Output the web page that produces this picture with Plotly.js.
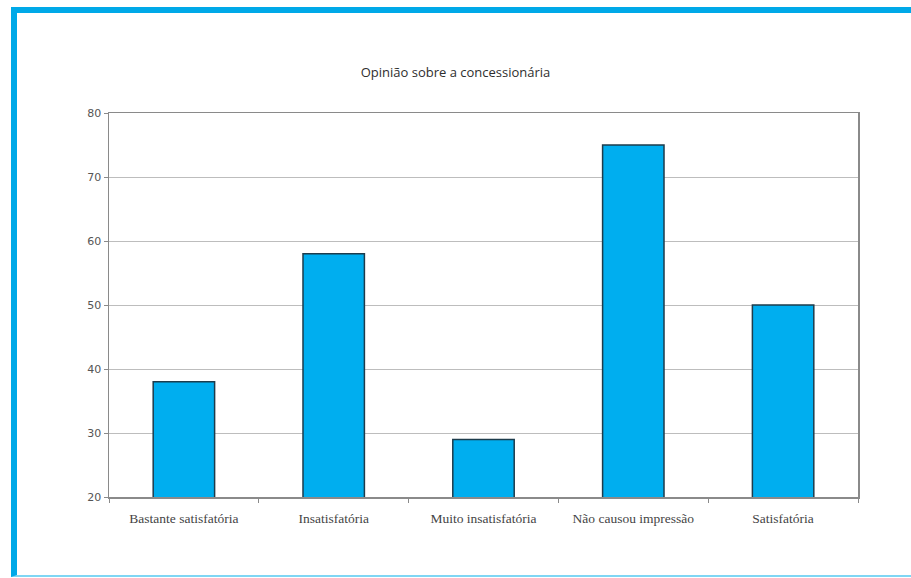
<!DOCTYPE html>
<html>
<head>
<meta charset="utf-8">
<script src="https://cdn.plot.ly/plotly-3.0.1.min.js"></script>
<style>
  html, body { margin: 0; padding: 0; background: #ffffff; }
  #wrap { position: relative; width: 911px; height: 578px; overflow: hidden; }
  #frame {
    position: absolute; left: 11px; top: 7px; width: 940px; height: 562px;
    border-left: 6px solid #00a9e8; border-top: 6px solid #00a9e8;
    border-bottom: 2px solid #7fd6f4; box-sizing: content-box;
  }
  #chart { position: absolute; left: 0; top: 0; width: 911px; height: 578px; }
</style>
</head>
<body>
<div id="wrap">
  <div id="frame"></div>
  <div id="chart"></div>
</div>
<script>
// Opinion survey about the car dealership
const categories = [
  "Bastante satisfatória",
  "Insatisfatória",
  "Muito insatisfatória",
  "Não causou impressão",
  "Satisfatória"
];
const counts = [38, 58, 29, 75, 50];
const yTicks = [20, 30, 40, 50, 60, 70, 80];

const trace = {
  type: "bar",
  x: categories,
  y: counts,
  marker: {
    color: "#00aeef",
    line: { color: "#1d3c4c", width: 1.5 }
  },
  hoverinfo: "x+y"
};

const layout = {
  width: 911,
  height: 578,
  paper_bgcolor: "rgba(0,0,0,0)",
  plot_bgcolor: "#ffffff",
  margin: { l: 109, r: 53, t: 113, b: 81 },
  bargap: 0.59,
  showlegend: false,
  title: {
    text: "Opinião sobre a concessionária",
    x: 0.5,
    xref: "container",
    y: 0.874,
    yref: "container",
    yanchor: "middle",
    font: { family: "Open Sans, DejaVu Sans, sans-serif", size: 13, color: "#2e2e2e" }
  },
  xaxis: {
    type: "category",
    showgrid: false,
    showline: true,
    linecolor: "#8a8a8a",
    linewidth: 1.5,
    mirror: true,
    ticks: "outside",
    tickson: "boundaries",
    ticklen: 4,
    tickcolor: "#8a8a8a",
    ticklabelstandoff: 8,
    tickfont: { family: "Liberation Serif, DejaVu Serif, serif", size: 13.5, color: "#444444" },
    fixedrange: true
  },
  yaxis: {
    range: [20, 80],
    tickvals: yTicks,
    ticktext: yTicks.map(String),
    showgrid: true,
    gridcolor: "#bdbdbd",
    gridwidth: 1,
    zeroline: false,
    showline: true,
    linecolor: "#8a8a8a",
    linewidth: 1.5,
    mirror: true,
    ticks: "outside",
    ticklen: 4,
    tickcolor: "#8a8a8a",
    tickfont: { family: "DejaVu Sans, sans-serif", size: 11, color: "#555555" },
    fixedrange: true
  }
};

Plotly.newPlot("chart", [trace], layout, { displayModeBar: false, staticPlot: true });
</script>
</body>
</html>
